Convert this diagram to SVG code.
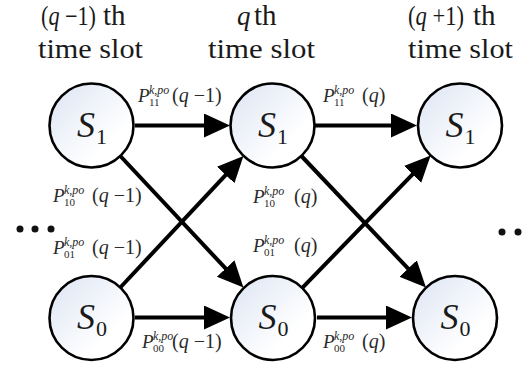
<svg xmlns="http://www.w3.org/2000/svg" width="523" height="367" viewBox="0 0 523 367">
<style>
.hd{font-family:"Liberation Serif",serif;font-size:27px;fill:#1a1a1a}
.th{font-family:"Liberation Serif",serif;font-size:29px;fill:#1a1a1a}
.it{font-style:italic}
.st{fill:url(#g);stroke:#000;stroke-width:2.6}
.sn{font-family:"Liberation Serif",serif;font-size:36px;font-style:italic;fill:#1a1a1a}
.ss{font-family:"Liberation Serif",serif;font-size:22px;fill:#1a1a1a}
.lp{font-family:"Liberation Serif",serif;font-size:19px;font-style:italic;fill:#2a2a2a}
.lu{font-family:"Liberation Serif",serif;font-size:12px;font-style:italic;fill:#2a2a2a}
.lb{font-family:"Liberation Serif",serif;font-size:11px;fill:#2a2a2a}
.lq{font-family:"Liberation Serif",serif;font-size:20px;fill:#2a2a2a}
.ed{stroke:#000;stroke-width:4;fill:none;marker-end:url(#ah)}
</style>
<defs>
<linearGradient id="g" x1="0" y1="0" x2="1" y2="1">
<stop offset="0" stop-color="#dce4f3"/>
<stop offset="0.7" stop-color="#ffffff"/>
</linearGradient>
<marker id="ah" markerUnits="userSpaceOnUse" markerWidth="28" markerHeight="26" refX="16" refY="12" orient="auto">
<path d="M0,0 L26,12 L0,24 Z" fill="#000"/>
</marker>
</defs>

<g id="headers">
<text class="hd" x="41" y="25" textLength="55" lengthAdjust="spacingAndGlyphs">(<tspan class="it">q</tspan> −1)</text>
<text class="th" x="103" y="25">th</text>
<text class="hd it" x="237" y="25">q</text>
<text class="th" x="254" y="25">th</text>
<text class="hd" x="408" y="25" textLength="56" lengthAdjust="spacingAndGlyphs">(<tspan class="it">q</tspan> +1)</text>
<text class="th" x="473" y="25">th</text>
<text class="hd" x="38" y="58" textLength="105" lengthAdjust="spacingAndGlyphs">time slot</text>
<text class="hd" x="208" y="58" textLength="107" lengthAdjust="spacingAndGlyphs">time slot</text>
<text class="hd" x="408" y="58" textLength="105" lengthAdjust="spacingAndGlyphs">time slot</text>
</g>

<g id="connectors">
<line class="ed" x1="135" y1="125.5" x2="220" y2="125.5"/>
<line class="ed" x1="135" y1="317.5" x2="220" y2="317.5"/>
<line class="ed" x1="315" y1="125.5" x2="407" y2="125.5"/>
<line class="ed" x1="317" y1="317.5" x2="402" y2="317.5"/>
<line class="ed" x1="120.3" y1="156" x2="236.6" y2="280.2"/>
<line class="ed" x1="120.3" y1="287.5" x2="236.6" y2="163.3"/>
<line class="ed" x1="301.4" y1="156" x2="419.1" y2="280.2"/>
<line class="ed" x1="302.3" y1="287.9" x2="423.7" y2="162.8"/>
</g>

<g id="n-s1-a"><circle class="st" cx="91.5" cy="125.5" r="42"/><text class="sn" x="77" y="137">S</text><text class="ss" x="96" y="144">1</text></g>
<g id="n-s1-b"><circle class="st" cx="272.5" cy="125.5" r="42"/><text class="sn" x="258" y="137">S</text><text class="ss" x="277" y="144">1</text></g>
<g id="n-s1-c"><circle class="st" cx="460" cy="125.5" r="42"/><text class="sn" x="445.5" y="137">S</text><text class="ss" x="464.5" y="144">1</text></g>
<g id="n-s0-a"><circle class="st" cx="91.5" cy="318" r="42"/><text class="sn" x="77" y="329">S</text><text class="ss" x="96" y="336">0</text></g>
<g id="n-s0-b"><circle class="st" cx="273" cy="318" r="42"/><text class="sn" x="258.5" y="329">S</text><text class="ss" x="277.5" y="336">0</text></g>
<g id="n-s0-c"><circle class="st" cx="455" cy="318" r="42"/><text class="sn" x="440.5" y="329">S</text><text class="ss" x="459.5" y="336">0</text></g>

<g id="labels">
<text class="lp" x="138" y="102">P</text><text class="lu" x="149" y="94">k,po</text><text class="lb" x="149" y="106">11</text><text class="lq" x="172" y="102">(<tspan class="it">q</tspan> −1)</text>
<text class="lp" x="53" y="202">P</text><text class="lu" x="64" y="194">k,po</text><text class="lb" x="64" y="206">10</text><text class="lq" x="92" y="202">(<tspan class="it">q</tspan> −1)</text>
<text class="lp" x="53" y="254">P</text><text class="lu" x="64" y="246">k,po</text><text class="lb" x="64" y="258">01</text><text class="lq" x="92" y="254">(<tspan class="it">q</tspan> −1)</text>
<text class="lp" x="142" y="348">P</text><text class="lu" x="153" y="340">k,po</text><text class="lb" x="153" y="352">00</text><text class="lq" x="172" y="348">(<tspan class="it">q</tspan> −1)</text>
<text class="lp" x="323" y="102">P</text><text class="lu" x="334" y="94">k,po</text><text class="lb" x="334" y="106">11</text><text class="lq" x="362" y="102">(<tspan class="it">q</tspan>)</text>
<text class="lp" x="253" y="203">P</text><text class="lu" x="264" y="195">k,po</text><text class="lb" x="264" y="207">10</text><text class="lq" x="294" y="203">(<tspan class="it">q</tspan>)</text>
<text class="lp" x="253" y="252">P</text><text class="lu" x="264" y="244">k,po</text><text class="lb" x="264" y="256">01</text><text class="lq" x="294" y="252">(<tspan class="it">q</tspan>)</text>
<text class="lp" x="323" y="348">P</text><text class="lu" x="334" y="340">k,po</text><text class="lb" x="334" y="352">00</text><text class="lq" x="362" y="348">(<tspan class="it">q</tspan>)</text>
</g>

<g id="dots" fill="#111">
<circle cx="20" cy="229" r="3.5"/><circle cx="35" cy="229" r="3.5"/><circle cx="51" cy="229" r="3.5"/>
<circle cx="502" cy="232" r="3.5"/><circle cx="518" cy="232" r="3.5"/>
</g>
</svg>
